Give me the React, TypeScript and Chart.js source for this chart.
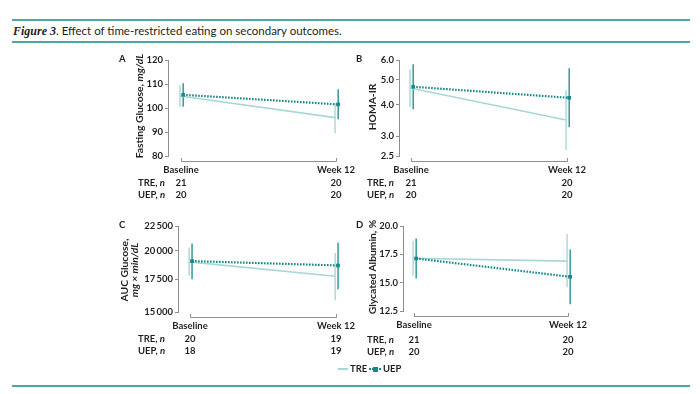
import React, { useEffect, useRef } from "react";
import { Chart, registerables } from "chart.js";

Chart.register(...registerables);

// ---------- DATA ----------
const CATEGORIES = ["Baseline", "Week 12"];

const A_TRE = [105, 96];
const A_TRE_LO = [100.5, 89.5];
const A_TRE_HI = [109.5, 102];
const A_UEP = [105.5, 101.5];
const A_UEP_LO = [100.5, 95.3];
const A_UEP_HI = [110.3, 107.8];
const A_TICKS = [80, 90, 100, 110, 120];
const A_N_TRE = ["21", "20"];
const A_N_UEP = ["20", "20"];

const B_TRE = [4.65, 3.47];
const B_TRE_LO = [3.9, 2.64];
const B_TRE_HI = [5.5, 4.55];
const B_UEP = [4.7, 4.25];
const B_UEP_LO = [3.83, 3.25];
const B_UEP_HI = [5.77, 5.56];
const B_TICKS = [2.5, 3.0, 4.0, 5.0, 6.0];
const B_N_TRE = ["21", "20"];
const B_N_UEP = ["20", "20"];

const C_TRE = [19000, 17750];
const C_TRE_LO = [17800, 15850];
const C_TRE_HI = [20300, 19800];
const C_UEP = [19070, 18680];
const C_UEP_LO = [17500, 16700];
const C_UEP_HI = [20730, 20800];
const C_TICKS = [15000, 17500, 20000, 22500];
const C_N_TRE = ["20", "19"];
const C_N_UEP = ["18", "19"];

const D_TRE = [17.15, 16.9];
const D_TRE_LO = [15.6, 14.6];
const D_TRE_HI = [18.7, 19.3];
const D_UEP = [17.13, 15.52];
const D_UEP_LO = [15.37, 13.09];
const D_UEP_HI = [18.89, 17.92];
const D_TICKS = [12.5, 15.0, 17.5, 20.0];
const D_N_TRE = ["21", "20"];
const D_N_UEP = ["20", "20"];

// ---------- STYLE ----------
const FONT = 'Lato, "Open Sans", "DejaVu Sans", sans-serif';
const TRE_COLOR = "#a9d6d6";
const UEP_COLOR = "#16898a";
const AXIS_COLOR = "#8f8f8f";
const TEXT_COLOR = "#231f20";
const RULE_COLOR = "#4fa5a5";

type Panel = {
  letter: string;
  yType: "linear" | "logarithmic";
  ticks: number[];
  fmt: (v: number) => string;
  tre: number[];
  treLo: number[];
  treHi: number[];
  uep: number[];
  uepLo: number[];
  uepHi: number[];
  nTre: string[];
  nUep: string[];
  area: { left: number; top: number; right: number; bottom: number };
  x0: number;
  x1: number;
  ylabel: React.ReactNode;
  ylabelX: number;
  ylabelY: number;
  letterX: number;
  letterY: number;
  rowLabelX: number;
  rowY: number;
};

const thin = (v: number) => {
  const s = String(Math.round(v));
  return s.length > 3 ? s.slice(0, s.length - 3) + "\u2009" + s.slice(s.length - 3) : s;
};

const PANELS: Panel[] = [
  {
    letter: "A",
    yType: "linear",
    ticks: A_TICKS,
    fmt: (v) => String(v),
    tre: A_TRE, treLo: A_TRE_LO, treHi: A_TRE_HI,
    uep: A_UEP, uepLo: A_UEP_LO, uepHi: A_UEP_HI,
    nTre: A_N_TRE, nUep: A_N_UEP,
    area: { left: 168, top: 60, right: 341, bottom: 156 },
    x0: 181, x1: 336,
    ylabel: (<span>Fasting Glucose, <i>mg/dL</i></span>),
    ylabelX: 139, ylabelY: 106,
    letterX: 123, letterY: 59,
    rowLabelX: 138, rowY: 183,
  },
  {
    letter: "B",
    yType: "logarithmic",
    ticks: B_TICKS,
    fmt: (v) => v.toFixed(1),
    tre: B_TRE, treLo: B_TRE_LO, treHi: B_TRE_HI,
    uep: B_UEP, uepLo: B_UEP_LO, uepHi: B_UEP_HI,
    nTre: B_N_TRE, nUep: B_N_UEP,
    area: { left: 399, top: 60, right: 572, bottom: 156 },
    x0: 411, x1: 567,
    ylabel: (<span>HOMA-IR</span>),
    ylabelX: 372, ylabelY: 107,
    letterX: 360, letterY: 59,
    rowLabelX: 367, rowY: 183,
  },
  {
    letter: "C",
    yType: "logarithmic",
    ticks: C_TICKS,
    fmt: thin,
    tre: C_TRE, treLo: C_TRE_LO, treHi: C_TRE_HI,
    uep: C_UEP, uepLo: C_UEP_LO, uepHi: C_UEP_HI,
    nTre: C_N_TRE, nUep: C_N_UEP,
    area: { left: 178, top: 226, right: 341, bottom: 312 },
    x0: 190, x1: 336,
    ylabel: (<span style={{ display: "inline-block", lineHeight: "10px", textAlign: "center" }}>AUC Glucose,<br /><i>mg × min/dL</i></span>),
    ylabelX: 129, ylabelY: 270,
    letterX: 123, letterY: 225,
    rowLabelX: 138, rowY: 339,
  },
  {
    letter: "D",
    yType: "linear",
    ticks: D_TICKS,
    fmt: (v) => v.toFixed(1),
    tre: D_TRE, treLo: D_TRE_LO, treHi: D_TRE_HI,
    uep: D_UEP, uepLo: D_UEP_LO, uepHi: D_UEP_HI,
    nTre: D_N_TRE, nUep: D_N_UEP,
    area: { left: 403, top: 226, right: 573, bottom: 311 },
    x0: 414, x1: 568,
    ylabel: (<span>Glycated Albumin, %</span>),
    ylabelX: 372, ylabelY: 267,
    letterX: 360, letterY: 225,
    rowLabelX: 367, rowY: 340,
  },
];

const Y_BOX = 44;
const PAD_TOP = 8;
const X_BOX = 22;
const PAD_RIGHT = 34;

const errorBarPlugin = {
  id: "errorBars",
  beforeDatasetsDraw(chart: any) {
    const ctx = chart.ctx;
    const y = chart.scales.y;
    const order = chart.data.datasets
      .map((d: any, i: number) => i)
      .reverse();
    for (const i of order) {
      const ds: any = chart.data.datasets[i];
      const meta = chart.getDatasetMeta(i);
      ctx.save();
      ctx.strokeStyle = ds.borderColor;
      ctx.lineWidth = ds.errWidth;
      meta.data.forEach((pt: any, j: number) => {
        ctx.beginPath();
        ctx.moveTo(pt.x, y.getPixelForValue(ds.errLo[j]));
        ctx.lineTo(pt.x, y.getPixelForValue(ds.errHi[j]));
        ctx.stroke();
      });
      ctx.restore();
    }
  },
};

const bracketPlugin = {
  id: "bracket",
  afterDraw(chart: any) {
    const ctx = chart.ctx;
    const x = chart.scales.x;
    const yb = chart.chartArea.bottom + 5;
    const a = Math.round(x.getPixelForValue(0)) + 0.5;
    const b = Math.round(x.getPixelForValue(1)) + 0.5;
    ctx.save();
    ctx.strokeStyle = AXIS_COLOR;
    ctx.lineWidth = 1;
    ctx.beginPath();
    ctx.moveTo(a, yb - 3);
    ctx.lineTo(a, Math.round(yb) + 0.5);
    ctx.lineTo(b, Math.round(yb) + 0.5);
    ctx.lineTo(b, yb - 3);
    ctx.stroke();
    ctx.restore();
  },
};

function PanelChart({ p }: { p: Panel }) {
  const ref = useRef<HTMLCanvasElement | null>(null);
  const cl = p.area.left - Y_BOX;
  const ct = p.area.top - PAD_TOP;
  const cw = p.area.right + PAD_RIGHT - cl;
  const ch = p.area.bottom + X_BOX - ct;
  const span = p.x1 - p.x0;
  const xMin = -(p.x0 - p.area.left) / span;
  const xMax = 1 + (p.area.right - p.x1) / span;

  useEffect(() => {
    if (!ref.current) return;
    const mk = (vals: number[], off: number) =>
      vals.map((v, i) => ({ x: i + off, y: v }));
    const chart = new Chart(ref.current, {
      type: "line",
      data: {
        datasets: [
          {
            label: "UEP",
            data: mk(p.uep, 0.014),
            borderColor: UEP_COLOR,
            backgroundColor: UEP_COLOR,
            borderWidth: 2.2,
            borderDash: [1.6, 1.4],
            pointStyle: "rect",
            pointRadius: 2.6,
            pointBorderWidth: 0,
            errLo: p.uepLo,
            errHi: p.uepHi,
            errWidth: 1.3,
            clip: false,
          } as any,
          {
            label: "TRE",
            data: mk(p.tre, -0.006),
            borderColor: TRE_COLOR,
            backgroundColor: TRE_COLOR,
            borderWidth: 1.6,
            pointRadius: 0,
            errLo: p.treLo,
            errHi: p.treHi,
            errWidth: 1.4,
            clip: false,
          } as any,
        ],
      },
      options: {
        animation: false,
        responsive: false,
        devicePixelRatio: 1,
        layout: { padding: { top: PAD_TOP, right: PAD_RIGHT, left: 0, bottom: 0 } },
        plugins: { legend: { display: false }, tooltip: { enabled: false } },
        scales: {
          x: {
            type: "linear",
            min: xMin,
            max: xMax,
            afterBuildTicks: (s: any) => {
              s.ticks = [{ value: 0 }, { value: 1 }];
            },
            afterFit: (s: any) => {
              s.height = X_BOX;
            },
            grid: { display: false, drawTicks: false },
            border: { display: false },
            ticks: {
              callback: (v: any) => (v === 0 ? CATEGORIES[0] : CATEGORIES[1]),
              font: { family: FONT, size: 9.5, weight: "bold" },
              color: TEXT_COLOR,
              padding: 8,
              maxRotation: 0,
              autoSkip: false,
            },
          },
          y: {
            type: p.yType,
            min: p.ticks[0],
            max: p.ticks[p.ticks.length - 1],
            afterBuildTicks: (s: any) => {
              s.ticks = p.ticks.map((v) => ({ value: v }));
            },
            afterFit: (s: any) => {
              s.width = Y_BOX;
            },
            grid: { drawOnChartArea: false, tickLength: 3, color: AXIS_COLOR },
            border: { color: AXIS_COLOR, width: 1 },
            ticks: {
              callback: (v: any) => p.fmt(Number(v)),
              font: { family: FONT, size: 9.5, weight: "bold" },
              color: TEXT_COLOR,
              padding: 2,
              autoSkip: false,
            },
          },
        },
      } as any,
      plugins: [errorBarPlugin, bracketPlugin],
    });
    return () => chart.destroy();
  }, []);

  return (
    <canvas
      ref={ref}
      width={cw}
      height={ch}
      style={{ position: "absolute", left: cl, top: ct, width: cw, height: ch }}
    />
  );
}

const txt: React.CSSProperties = {
  position: "absolute",
  fontFamily: FONT,
  fontWeight: 700,
  fontSize: 9.5,
  color: TEXT_COLOR,
  whiteSpace: "nowrap",
  lineHeight: "12px",
};

function PanelText({ p }: { p: Panel }) {
  return (
    <>
      <div style={{ ...txt, left: p.letterX - 4, top: p.letterY - 6 }}>{p.letter}</div>
      <div
        style={{
          ...txt,
          fontSize: 10.3,
          left: p.ylabelX,
          top: p.ylabelY,
          transform: "translate(-50%, -50%) rotate(-90deg)",
        }}
      >
        {p.ylabel}
      </div>
      <div style={{ ...txt, left: p.rowLabelX, top: p.rowY - 6 }}>
        TRE, <i>n</i>
      </div>
      <div style={{ ...txt, left: p.rowLabelX, top: p.rowY + 6 }}>
        UEP, <i>n</i>
      </div>
      {[p.x0, p.x1].map((x, i) => (
        <React.Fragment key={i}>
          <div style={{ ...txt, left: x, top: p.rowY - 6, transform: "translateX(-50%)" }}>{p.nTre[i]}</div>
          <div style={{ ...txt, left: x, top: p.rowY + 6, transform: "translateX(-50%)" }}>{p.nUep[i]}</div>
        </React.Fragment>
      ))}
    </>
  );
}

export default function App() {
  return (
    <div
      style={{
        position: "absolute",
        left: 0,
        top: 0,
        width: 700,
        height: 394,
        background: "#fff",
        overflow: "hidden",
      }}
    >
      <div style={{ position: "absolute", left: 12, top: 19, width: 678, height: 2, background: RULE_COLOR }} />
      <div style={{ position: "absolute", left: 12, top: 41, width: 678, height: 2, background: RULE_COLOR }} />
      <div style={{ position: "absolute", left: 12, top: 385, width: 678, height: 2, background: RULE_COLOR }} />
      <div
        style={{
          position: "absolute",
          left: 13,
          top: 24,
          fontFamily: FONT,
          fontSize: 11.5,
          color: TEXT_COLOR,
          whiteSpace: "nowrap",
          lineHeight: "14px",
        }}
      >
        <span style={{ fontFamily: '"Liberation Serif", "DejaVu Serif", serif', fontStyle: "italic", fontWeight: 700, fontSize: 12 }}>
          Figure 3
        </span>
        . Effect of time-restricted eating on secondary outcomes.
      </div>

      {PANELS.map((p) => (
        <PanelChart key={p.letter} p={p} />
      ))}
      {PANELS.map((p) => (
        <PanelText key={"t" + p.letter} p={p} />
      ))}

      {/* legend */}
      <div style={{ position: "absolute", left: 338, top: 368, width: 10, height: 1.6, background: TRE_COLOR }} />
      <div style={{ ...txt, left: 350, top: 363 }}>TRE</div>
      <div
        style={{
          position: "absolute",
          left: 369,
          top: 368,
          width: 12,
          height: 0,
          borderTop: `2px dotted ${UEP_COLOR}`,
        }}
      />
      <div style={{ position: "absolute", left: 373, top: 366.5, width: 5, height: 5, background: UEP_COLOR }} />
      <div style={{ ...txt, left: 383, top: 363 }}>UEP</div>
    </div>
  );
}
